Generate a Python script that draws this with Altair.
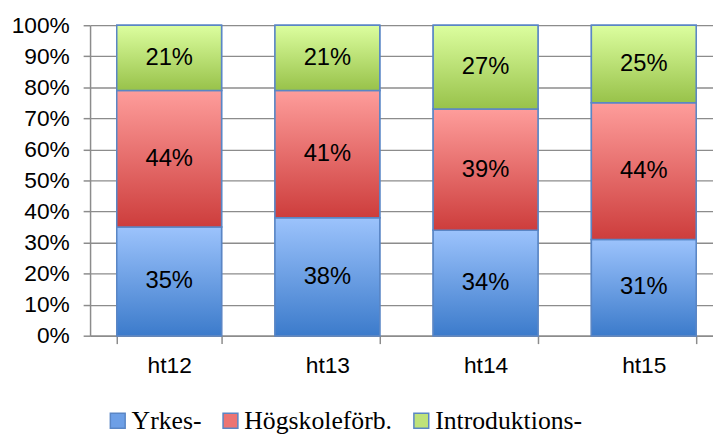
import altair as alt
import pandas as pd

categories = ["ht12", "ht13", "ht14", "ht15"]
series = ["Yrkes-", "Högskoleförb.", "Introduktions-"]
yrkes = [35, 38, 34, 31]
hogskole = [44, 41, 39, 44]
intro = [21, 21, 27, 25]

rows = []
for i, c in enumerate(categories):
    for k, (s, vals) in enumerate(zip(series, [yrkes, hogskole, intro])):
        rows.append({"cat": c, "series": s, "order": k, "value": vals[i]})
df = pd.DataFrame(rows)

grads = {
    "Yrkes-": ("#9cc3fc", "#3c7bcb"),
    "Högskoleförb.": ("#fe9d9b", "#cd3d3c"),
    "Introduktions-": ("#dcfe9f", "#98c24a"),
}
solid = ["#6d9fe6", "#ec7473", "#bfe27a"]

x_enc = alt.X("cat:N", sort=categories,
              scale=alt.Scale(range=[0, 640], paddingInner=0.3375, paddingOuter=0.16875),
              axis=alt.Axis(title=None, labelAngle=0, labelFont="Liberation Sans", labelFontSize=23,
                            labelColor="black", labelPadding=11, tickBand="extent", tickSize=8,
                            tickColor="#8c8c8c", tickWidth=1.5, domainColor="#8c8c8c",
                            domainWidth=1.5, grid=False))
y_scale = alt.Scale(domain=[0, 100], nice=False)
y_axis = alt.Axis(title=None, values=list(range(0, 101, 10)), labelExpr="datum.value + '%'",
                  labelFont="Liberation Sans", labelFontSize=23, labelColor="black",
                  labelPadding=14, tickSize=7, tickColor="#8c8c8c", tickWidth=1.5,
                  domainColor="#8c8c8c", domainWidth=1.5, gridColor="#8c8c8c", gridWidth=1.3)

base = alt.Chart(df).transform_stack(
    stack="value", groupby=["cat"], as_=["y0", "y1"], sort=[alt.SortField("order")]
)

legend_layer = base.mark_bar(stroke="#5a86c5", strokeWidth=1.5).encode(
    x=x_enc,
    y=alt.Y("y0:Q", scale=y_scale, axis=y_axis),
    y2="y1:Q",
    color=alt.Color("series:N", sort=series,
                    scale=alt.Scale(domain=series, range=solid),
                    legend=alt.Legend(title=None, orient="none", direction="horizontal",
                                      legendX=15, legendY=387, symbolType="square",
                                      symbolSize=225, symbolStrokeColor="#5a86c5",
                                      symbolStrokeWidth=1.5, symbolOpacity=1,
                                      labelFont="Liberation Serif", labelFontSize=26,
                                      labelColor="black", labelOffset=1, columnPadding=16,
                                      labelLimit=300)),
)

layers = [legend_layer]
for s in series:
    top, bot = grads[s]
    g = alt.Gradient(gradient="linear",
                     stops=[alt.GradientStop(color=top, offset=0), alt.GradientStop(color=bot, offset=1)],
                     x1=0, x2=0, y1=0, y2=1)
    layers.append(
        base.transform_filter(alt.datum.series == s)
        .mark_bar(color=g, stroke="#5a86c5", strokeWidth=1.5)
        .encode(x=x_enc, y=alt.Y("y0:Q", scale=y_scale, axis=y_axis), y2="y1:Q")
    )

text = base.transform_calculate(
    mid="(datum.y0 + datum.y1) / 2", label="datum.value + '%'"
).mark_text(font="Liberation Sans", fontSize=24, color="black", baseline="middle").encode(
    x=x_enc, y=alt.Y("mid:Q", scale=y_scale, axis=y_axis), text="label:N"
)
layers.append(text)

chart = alt.layer(*layers).properties(
    width=630, height=314,
    autosize=alt.AutoSizeParams(type="none"),
    padding={"left": 83, "top": 15, "right": 0, "bottom": 97},
    background="white",
).configure_view(stroke=None)

chart.save("out.html", embed_options={"renderer": "svg", "actions": False})
